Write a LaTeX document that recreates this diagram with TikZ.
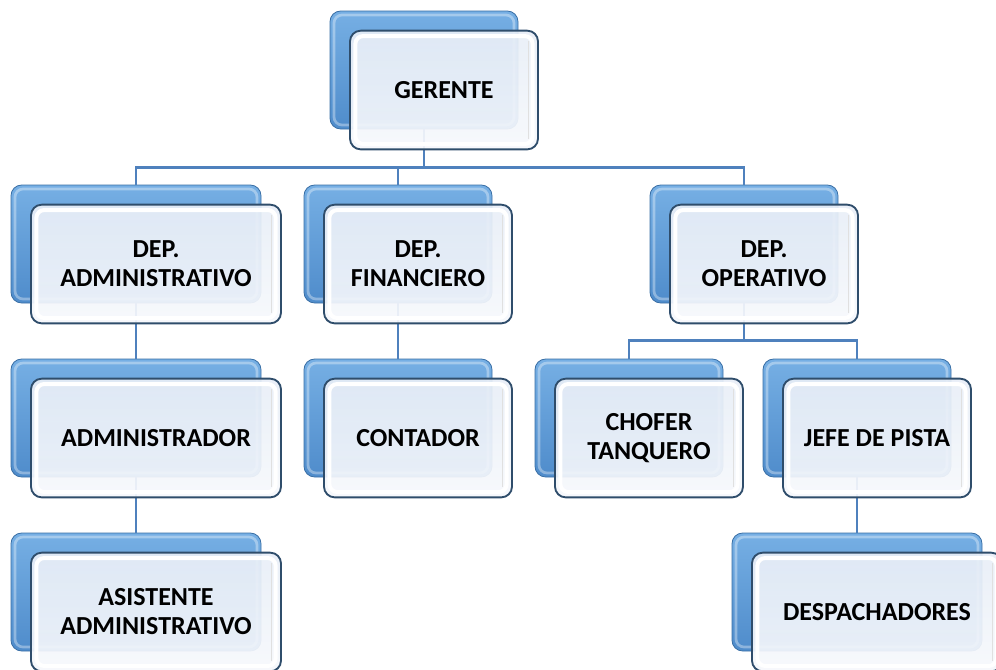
\documentclass[tikz,border=0pt]{standalone}
\usepackage{fontspec}
\setmainfont{Carlito}
\usepackage{xcolor}
\usepackage{tikz}
\usetikzlibrary{positioning, calc}

\definecolor{backTop}{HTML}{76AFE4}
\definecolor{backBot}{HTML}{4F8CCB}
\definecolor{backEdge}{HTML}{3A6FA5}
\definecolor{frontTop}{HTML}{E8EEF7}
\definecolor{frontBot}{HTML}{F6F8FC}
\definecolor{frontEdge}{HTML}{2F4D6B}
\definecolor{linkBlue}{HTML}{4F81BD}

\tikzset{
    back/.style={rectangle, draw=backEdge, line width=0.6pt, rounded corners=8pt, top color=backTop, bottom color=backBot, minimum width=141pt, minimum height=88.5pt,
        path picture={\draw[white, opacity=0.35, line width=2pt, rounded corners=6pt] ([shift={(3pt,-3pt)}]path picture bounding box.north west) rectangle ([shift={(-3pt,3pt)}]path picture bounding box.south east);}},
    front/.style={rectangle, draw=frontEdge, line width=1.4pt, rounded corners=8pt, top color=frontTop, bottom color=frontBot, fill opacity=0.93, text opacity=1, minimum width=141pt, minimum height=89pt, align=center, xshift=15pt, yshift=-15pt, font=\bfseries\fontsize{19.5}{21.75}\selectfont,
        path picture={\draw[white, line width=3pt, rounded corners=6pt] ([shift={(4pt,-4pt)}]path picture bounding box.north west) rectangle ([shift={(-4pt,4pt)}]path picture bounding box.south east);
                      \draw[black!12, line width=1.2pt] ([shift={(-7pt,-8pt)}]path picture bounding box.north east) -- ([shift={(-7pt,8pt)}]path picture bounding box.south east);}},
    wide/.style={minimum width=187.5pt},
}

\begin{document}
\begin{tikzpicture}[x=0.75pt, y=-0.75pt,
    link/.style={draw=linkBlue, line width=2.2pt}
]
    \useasboundingbox (0,0) rectangle (996,669);

    % back plates
    \node[back] (gerB) at (424,70) {};
    \node[back, wide] (admB) at (136,244) {};
    \node[back] (finB) at (398,244) {};
    \node[back] (opB) at (744,244) {};
    \node[back, wide] (admrB) at (136,418) {};
    \node[back] (contB) at (398,418) {};
    \node[back] (chofB) at (629,418) {};
    \node[back] (jefB) at (857,418) {};
    \node[back, wide] (asisB) at (136,592) {};
    \node[back, wide] (despB) at (857,592) {};

    % connectors
    \draw[link] (gerB.south) -- ++(0,38) -| (admB.north);
    \draw[link] (gerB.south) -- ++(0,38) -| (finB.north);
    \draw[link] (gerB.south) -- ++(0,38) -| (opB.north);
    \draw[link] (admB.south) -- (admrB.north);
    \draw[link] (admrB.south) -- (asisB.north);
    \draw[link] (finB.south) -- (contB.north);
    \draw[link] (opB.south) -- ++(0,37) -| (chofB.north);
    \draw[link] (opB.south) -- ++(0,37) -| (jefB.north);
    \draw[link] (jefB.south) -- (despB.north);

    % front plates with the names
    \node[front] (ger) at (gerB) {GERENTE};
    \node[front, wide] (adm) at (admB) {DEP.\\ADMINISTRATIVO};
    \node[front] (fin) at (finB) {DEP.\\FINANCIERO};
    \node[front] (op) at (opB) {DEP.\\OPERATIVO};
    \node[front, wide] (admr) at (admrB) {ADMINISTRADOR};
    \node[front] (cont) at (contB) {CONTADOR};
    \node[front] (chof) at (chofB) {CHOFER\\TANQUERO};
    \node[front] (jef) at (jefB) {JEFE DE PISTA};
    \node[front, wide] (asis) at (asisB) {ASISTENTE\\ADMINISTRATIVO};
    \node[front, wide] (desp) at (despB) {DESPACHADORES};
\end{tikzpicture}
\end{document}
